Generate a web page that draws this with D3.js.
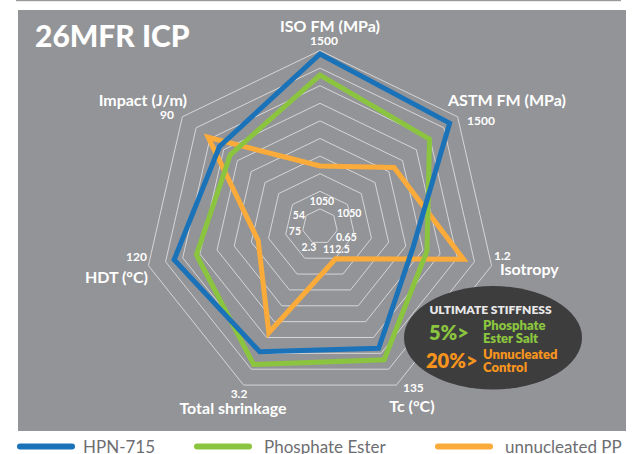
<!DOCTYPE html>
<html>
<head>
<meta charset="utf-8">
<script src="https://cdn.jsdelivr.net/npm/d3@7"></script>
<style>
    body { margin: 0; background: #fff; }
    svg { display: block; }
    text { font-family: Lato, "Open Sans", sans-serif; }
</style>
</head>
<body>
<div id="radar"></div>
<script>
/* ----------------------------------------------------- Data ------------------------------------------------------------------------- */

const axisNames = ["ISO FM (MPa)", "ASTM FM (MPa)", "Isotropy", "Tc (°C)", "Total shrinkage", "HDT (°C)", "Impact (J/m)"];
const axisMin = [1050, 1050, 0.65, 112.5, 2.3, 75, 54];
const axisMax = [1500, 1500, 1.2, 135, 3.2, 120, 90];
const innerTickLabels = ["1050", "1050", "0.65", "112.5", "2.3", "75", "54"];
const outerTickLabels = ["1500", "1500", "1.2", "135", "3.2", "120", "90"];

const seriesNames = ["HPN-715", "Phosphate Ester", "unnucleated PP"];
const hpn715 = [1490, 1471, 0.92, 129.2, 2.99, 112.5, 79.2];
const phosphateEster = [1430, 1398, 0.97, 131, 3.07, 106, 76.1];
const unnucleatedPP = [1172, 1269, 1.10, 115.1, 2.87, 88, 82.5];

/* ----------------------------------------------------- Layout ----------------------------------------------------------------------- */

const width = 637, height = 454;
const cx = 320, cy = 226.5, R = 176, rings = 10;
const colors = ["#1a72b9", "#8bc53f", "#fbab3a"];

// label offsets from the outer / inner vertex of each axis: [anchor, dx, dy]
const nameOffsets = [["middle", 10, -19], ["start", -9.6, -10.8], ["start", 8.4, 9.3], ["middle", 15.6, 26.9],
    ["middle", -10.6, 28.9], ["end", -0.4, 17.3], ["end", 4.6, -10.8]];
const maxOffsets = [["middle", 4, -6], ["start", 9.4, 8.2], ["start", 2.4, -5.7], ["start", 6.6, 6.9],
    ["middle", -4.6, 12.9], ["end", -1.4, -4.7], ["end", -8.4, 2.2]];
const minOffsets = [["middle", 2, -3.9], ["start", 3.2, 1.5], ["start", -1.2, 10.6], ["start", -4.6, 10.6],
    ["middle", -3.4, 8.6], ["end", -1.8, 4.6], ["end", -1.2, 3.5]];

const angle = i => i * 2 * Math.PI / axisNames.length;
const scales = axisNames.map((d, i) => d3.scaleLinear().domain([axisMin[i], axisMax[i]]).range([R / rings, R]));
const point = (i, r) => [cx + r * Math.sin(angle(i)), cy - r * Math.cos(angle(i))];

const svg = d3.select("#radar").append("svg")
    .attr("width", width)
    .attr("height", height);

/* panel */
svg.append("rect").attr("x", 16).attr("y", 0).attr("width", 605).attr("height", 1.2).attr("fill", "#9a9a9c");
svg.append("rect").attr("x", 18).attr("y", 10).attr("width", 608).attr("height", 421).attr("fill", "#939497");

svg.append("text")
    .attr("x", 35).attr("y", 47)
    .attr("fill", "#fff")
    .style("font-size", "30px")
    .style("font-weight", 900)
    .text("26MFR ICP");

/* rings */
const g = svg.append("g").attr("transform", `translate(${cx}, ${cy})`);
const ringLine = d3.lineRadial()
    .angle((d, i) => angle(i))
    .radius(d => d)
    .curve(d3.curveLinearClosed);

g.selectAll(".ring")
    .data(d3.range(1, rings + 1))
    .enter().append("path")
    .attr("class", "ring")
    .attr("d", k => ringLine(axisNames.map(() => k * R / rings)))
    .attr("fill", "none")
    .attr("stroke", "#d6d6d8")
    .attr("stroke-width", 1);

/* series */
const seriesLine = d3.lineRadial()
    .angle((d, i) => angle(i))
    .radius((d, i) => scales[i](d))
    .curve(d3.curveLinearClosed);

const series = [hpn715, phosphateEster, unnucleatedPP];
g.selectAll(".series")
    .data([2, 1, 0])
    .enter().append("path")
    .attr("class", "series")
    .attr("d", k => seriesLine(series[k]))
    .attr("fill", "none")
    .attr("stroke", k => colors[k])
    .attr("stroke-width", 5)
    .attr("stroke-linejoin", "miter")
    .attr("stroke-miterlimit", 10);

/* axis labels */
function addLabels(labels, offsets, r, size, weight) {
    svg.append("g").selectAll("text")
        .data(labels)
        .enter().append("text")
        .attr("x", (d, i) => point(i, r)[0] + offsets[i][1])
        .attr("y", (d, i) => point(i, r)[1] + offsets[i][2])
        .attr("text-anchor", (d, i) => offsets[i][0])
        .attr("fill", "#fff")
        .style("font-size", size)
        .style("font-weight", weight)
        .text(d => d);
}
addLabels(axisNames, nameOffsets, R, "16px", 700);
addLabels(outerTickLabels, maxOffsets, R, "12px", 700);
addLabels(innerTickLabels, minOffsets, R / rings, "10.5px", 700);

/* callout */
const callout = svg.append("g");
callout.append("ellipse")
    .attr("cx", 493).attr("cy", 337.7).attr("rx", 89).attr("ry", 51.7)
    .attr("fill", "#3d3d3e");
callout.append("text").attr("x", 490.5).attr("y", 314.3).attr("text-anchor", "middle")
    .attr("fill", "#e8e8e8").style("font-size", "12px").style("font-weight", 800)
    .text("ULTIMATE STIFFNESS");
callout.append("text").attr("x", 429).attr("y", 340).attr("fill", "#8bc53f")
    .style("font-size", "20px").style("font-weight", 800).text("5%>");
callout.append("text").attr("x", 483).attr("y", 330.2).attr("fill", "#8bc53f")
    .style("font-size", "13px").style("font-weight", 800).text("Phosphate");
callout.append("text").attr("x", 483).attr("y", 342.6).attr("fill", "#8bc53f")
    .style("font-size", "13px").style("font-weight", 800).text("Ester Salt");
callout.append("text").attr("x", 426).attr("y", 368.3).attr("fill", "#f7941d")
    .style("font-size", "20px").style("font-weight", 800).text("20%>");
callout.append("text").attr("x", 483).attr("y", 358.8).attr("fill", "#f7941d")
    .style("font-size", "13px").style("font-weight", 800).text("Unnucleated");
callout.append("text").attr("x", 483).attr("y", 372).attr("fill", "#f7941d")
    .style("font-size", "13px").style("font-weight", 800).text("Control");

/* legend */
const legendX = [17, 194, 435];
const legend = svg.append("g").selectAll("g")
    .data(seriesNames)
    .enter().append("g")
    .attr("transform", (d, i) => `translate(${legendX[i]}, 446.5)`);
legend.append("line")
    .attr("x1", 3).attr("x2", 55).attr("y1", 0).attr("y2", 0)
    .attr("stroke", (d, i) => colors[i])
    .attr("stroke-width", 6)
    .attr("stroke-linecap", "round");
legend.append("text")
    .attr("x", (d, i) => [66, 70, 70][i]).attr("y", 6)
    .attr("fill", "#6d6e71")
    .style("font-size", "17px")
    .text(d => d);
</script>
</body>
</html>
